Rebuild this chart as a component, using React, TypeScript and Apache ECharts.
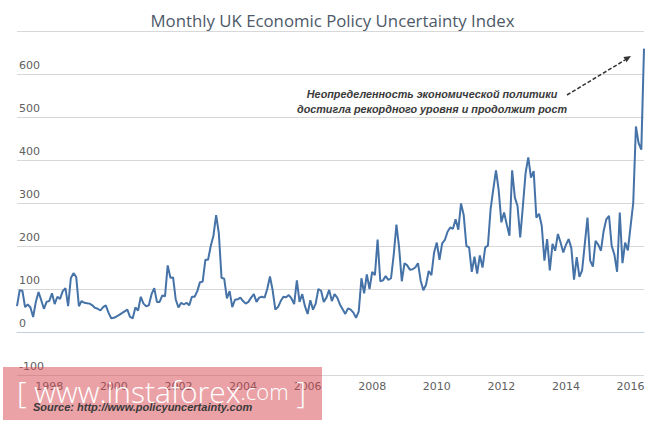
import React, { useEffect, useRef } from "react";
import * as echarts from "echarts";

// UK EPU index, monthly, Jan 1997 .. Jun 2016
const values1997to2001 = [
  60, 97, 96, 58, 64, 57, 35, 70, 93, 74, 54, 70,
  72, 90, 65, 82, 77, 95, 102, 60, 125, 137, 128, 60,
  72, 68, 67, 66, 62, 56, 54, 50, 58, 62, 45, 32,
  33, 36, 40, 44, 48, 52, 35, 32, 57, 50, 82, 66,
  60, 62, 88, 102, 70, 70, 85, 83, 155, 126, 127, 75,
];
const values2002to2006 = [
  57, 68, 64, 68, 62, 82, 82, 95, 116, 117, 168, 168,
  200, 224, 272, 230, 126, 124, 78, 95, 58, 75, 76, 80,
  72, 66, 70, 80, 88, 70, 80, 82, 80, 100, 129, 97,
  52, 58, 72, 82, 81, 86, 78, 65, 120, 70, 88, 60,
  42, 74, 52, 66, 100, 96, 70, 80, 98, 72, 88, 80,
];
const values2007to2011 = [
  64, 53, 42, 55, 52, 45, 33, 48, 125, 90, 134, 100,
  140, 132, 215, 118, 120, 130, 121, 125, 180, 250, 196, 118,
  160, 155, 145, 146, 150, 160, 120, 97, 110, 142, 132, 185,
  208, 168, 206, 214, 233, 243, 240, 262, 238, 299, 272, 200,
  197, 140, 175, 136, 178, 150, 197, 201, 286, 332, 376, 330,
];
const values2012to2016 = [
  255, 278, 250, 224, 376, 313, 293, 220, 293, 370, 406, 359,
  374, 266, 275, 247, 166, 216, 143, 205, 189, 228, 208, 185,
  203, 216, 195, 122, 174, 128, 143, 205, 266, 166, 152, 212,
  203, 189, 235, 262, 270, 200, 180, 140, 278, 160, 208, 190,
  245, 300, 478, 439, 424, 659,
];

const startYear = 1997;
const uncertainty = [
  ...values1997to2001,
  ...values2002to2006,
  ...values2007to2011,
  ...values2012to2016,
];
const months = uncertainty.map((_, i) => {
  const m = (i % 12) + 1;
  return `${startYear + Math.floor(i / 12)}-${m < 10 ? "0" + m : m}`;
});

const titleText = "Monthly UK Economic Policy Uncertainty Index";
const noteText =
  "Неопределенность экономической политики\nдостигла рекордного уровня и продолжит рост";
const sourceText = "Source: http://www.policyuncertainty.com";

const App: React.FC = () => {
  const chartRef = useRef<HTMLDivElement>(null);

  useEffect(() => {
    document.body.style.margin = "0";
    if (!chartRef.current) return;
    const chart = echarts.init(chartRef.current, undefined, { renderer: "svg" });

    const option = {
      animation: false,
      backgroundColor: "#ffffff",
      title: {
        text: titleText,
        left: "center",
        top: 7,
        textStyle: {
          fontFamily: "Open Sans",
          fontSize: 16.8,
          fontWeight: "normal",
          color: "#4d5968",
        },
      },
      grid: { left: 17, right: 21, top: 31, bottom: 47 },
      xAxis: {
        type: "category",
        data: months,
        boundaryGap: false,
        axisLine: { lineStyle: { color: "#c0d0e0", width: 1 } },
        axisTick: { show: false },
        axisLabel: {
          interval: (index: number) => index % 24 === 12,
          formatter: (v: string) => v.slice(0, 4),
          color: "#606060",
          fontFamily: "DejaVu Sans",
          fontSize: 11,
          margin: 6,
        },
        splitLine: { show: false },
      },
      yAxis: {
        type: "value",
        min: -100,
        max: 700,
        interval: 100,
        axisLine: { show: false },
        axisTick: { show: false },
        axisLabel: {
          inside: true,
          align: "left",
          verticalAlign: "bottom",
          margin: 2,
          padding: [0, 0, 3, 0],
          showMaxLabel: false,
          color: "#606060",
          fontFamily: "DejaVu Sans",
          fontSize: 11,
        },
        splitLine: { lineStyle: { color: "#d8d8d8", width: 1 } },
      },
      series: [
        {
          type: "line",
          data: uncertainty,
          symbol: "none",
          lineStyle: { color: "#4572a7", width: 2 },
        },
      ],
      graphic: [
        {
          type: "text",
          x: 432,
          y: 101,
          z: 100,
          style: {
            text: noteText,
            textAlign: "center",
            textVerticalAlign: "middle",
            lineHeight: 15,
            fontFamily: "Liberation Sans",
            fontStyle: "italic",
            fontWeight: "bold",
            fontSize: 10.8,
            fill: "#3a3a3a",
          },
        },
        {
          type: "line",
          z: 100,
          shape: { x1: 567, y1: 95, x2: 625, y2: 60 },
          style: { stroke: "#333333", lineWidth: 1.5, lineDash: [4, 2] },
        },
        {
          type: "polygon",
          z: 100,
          shape: { points: [[631, 56], [626.6, 62.3], [623.4, 57.1]] },
          style: { fill: "#333333" },
        },
        {
          type: "rect",
          z: 100,
          shape: { x: 3, y: 367, width: 319, height: 53 },
          style: { fill: "rgba(214, 70, 80, 0.5)" },
        },
        {
          type: "text",
          x: 17,
          y: 391,
          z: 101,
          style: {
            text: "{b|[ }{w|www.instaforex}{c|.com}{b| ]}",
            textVerticalAlign: "middle",
            rich: {
              b: { fontSize: 30, fontFamily: "Open Sans", fontWeight: 300, fill: "#ffffff" },
              w: { fontSize: 30, fontFamily: "Open Sans", fontWeight: 300, fill: "#ffffff" },
              c: { fontSize: 22, fontFamily: "Open Sans", fontWeight: 300, fill: "#ffffff" },
            },
          },
        },
        {
          type: "text",
          x: 33,
          y: 407,
          z: 102,
          style: {
            text: sourceText,
            textVerticalAlign: "middle",
            fontFamily: "Liberation Sans",
            fontStyle: "italic",
            fontWeight: "bold",
            fontSize: 11,
            fill: "#3a3a3a",
          },
        },
      ],
    };

    chart.setOption(option);

    return () => {
      chart.dispose();
    };
  }, []);

  return <div ref={chartRef} style={{ width: 665, height: 422 }} />;
};

export default App;
